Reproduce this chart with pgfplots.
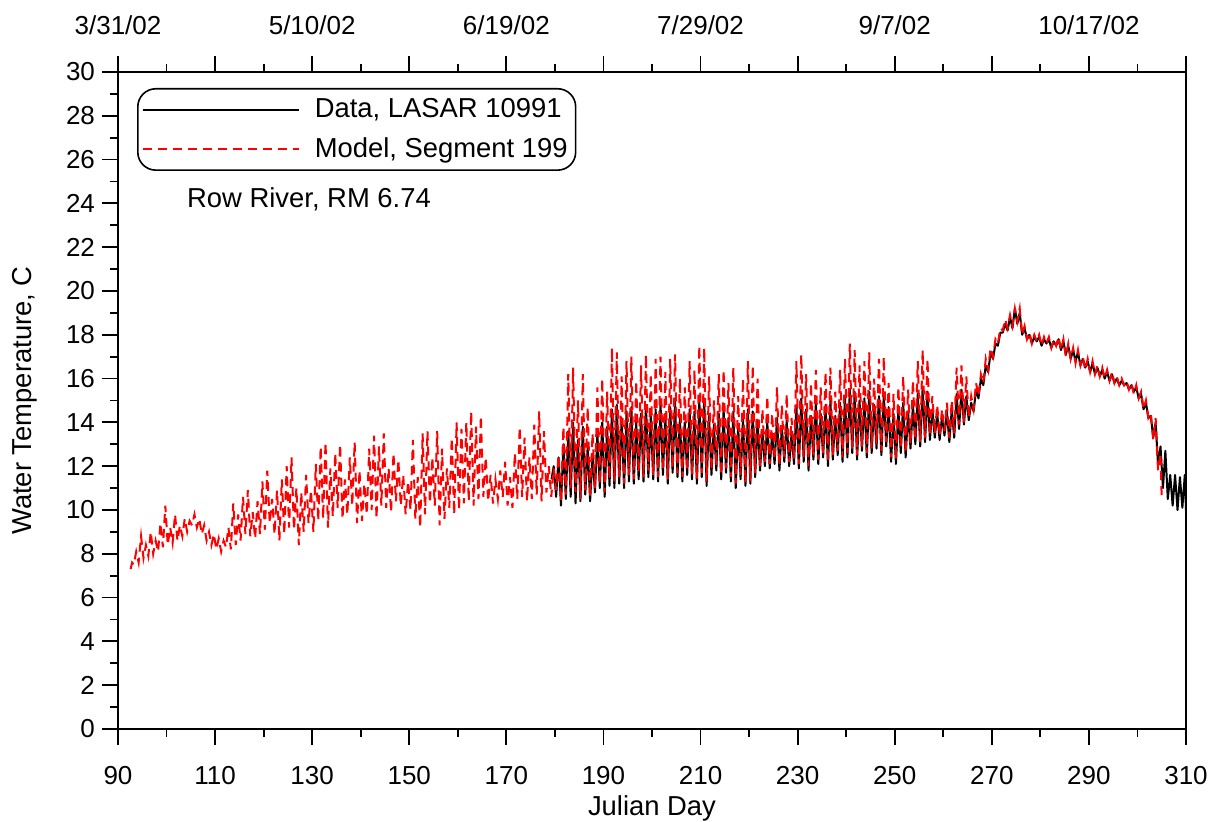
\documentclass[border=0pt]{standalone}
\usepackage{fontspec}
\setmainfont{Liberation Sans}
\usepackage{pgfplots}
\pgfplotsset{compat=1.18}
\definecolor{modred}{RGB}{255,0,0}
\newcommand{\fs}{\fontsize{13}{15.6}\selectfont}
\newcommand{\ft}{\fontsize{13.7}{16.4}\selectfont}
\begin{document}
\begin{tikzpicture}
\begin{axis}[name=A,
  scale only axis, width=534pt, height=328.5pt,
  xmin=90, xmax=310, ymin=0, ymax=30,
  xtick={90,110,...,310}, ytick={0,2,...,30},
  minor x tick num=1, minor y tick num=1,
  tick align=outside, xtick pos=bottom, ytick pos=left,
  major tick length=8pt, minor tick length=4pt,
  every tick/.style={black, line width=0.9pt},
  axis line style={line width=0.9pt},
  /pgf/number format/assume math mode=true,
  tick label style={font=\fs},
  xticklabel style={yshift=-7pt},
  label style={font=\ft},
  xlabel={Julian Day}, ylabel={Water Temperature, C},
  xlabel style={yshift=1.5pt},
  ylabel style={yshift=7.5pt},
  clip=false,
  legend cell align=left,
  legend style={font=\ft, at={(rel axis cs:0.0178,0.9757)}, anchor=north west,
    rounded corners=9pt, draw=black, line width=0.8pt, inner xsep=2pt, inner ysep=3pt,
    row sep=4.2pt, column sep=5.5pt},
  legend image code/.code={\draw[#1, line width=1pt] (0pt,0pt) -- (78pt,0pt);},
]
\addplot[black, line width=1pt, line join=round] coordinates {
(179.3,11.4)(179.75,12.0)
(180.25,10.6)(180.75,12.4)
(181.25,10.2)(181.75,13.0)
(182.25,10.5)(182.75,13.6)
(183.25,10.6)(183.75,14.0)
(184.25,10.3)(184.75,13.2)
(185.25,10.4)(185.75,13.8)
(186.25,10.7)(186.75,12.9)
(187.25,10.4)(187.75,12.5)
(188.25,10.8)(188.75,13.5)
(189.25,11.0)(189.75,14.0)
(190.25,10.6)(190.75,13.8)
(191.25,11.1)(191.75,14.6)
(192.25,11.0)(192.75,14.8)
(193.25,11.2)(193.75,14.2)
(194.25,11.0)(194.75,14.5)
(195.25,11.3)(195.75,14.7)
(196.25,11.2)(196.75,14.0)
(197.25,11.4)(197.75,14.4)
(198.25,11.3)(198.75,14.8)
(199.25,11.5)(199.75,14.3)
(200.25,11.4)(200.75,14.6)
(201.25,11.3)(201.75,14.9)
(202.25,11.6)(202.75,14.4)
(203.25,11.2)(203.75,14.7)
(204.25,11.7)(204.75,15.0)
(205.25,11.5)(205.75,14.2)
(206.25,11.3)(206.75,14.0)
(207.25,11.6)(207.75,14.6)
(208.25,11.4)(208.75,14.5)
(209.25,11.2)(209.75,15.0)
(210.25,11.5)(210.75,15.1)
(211.25,11.1)(211.75,14.3)
(212.25,11.6)(212.75,13.9)
(213.25,11.8)(213.75,14.4)
(214.25,11.4)(214.75,14.6)
(215.25,11.7)(215.75,14.2)
(216.25,11.3)(216.75,14.5)
(217.25,11.0)(217.75,13.8)
(218.25,11.4)(218.75,14.2)
(219.25,11.1)(219.75,14.6)
(220.25,11.2)(220.75,14.5)
(221.25,11.5)(221.75,14.1)
(222.25,11.8)(222.75,13.6)
(223.25,12.0)(223.75,14.0)
(224.25,11.9)(224.75,13.5)
(225.25,12.1)(225.75,14.2)
(226.25,11.8)(226.75,13.8)
(227.25,12.2)(227.75,14.1)
(228.25,12.0)(228.75,13.5)
(229.25,12.1)(229.75,14.8)
(230.25,11.9)(230.75,15.1)
(231.25,12.2)(231.75,14.6)
(232.25,11.8)(232.75,14.3)
(233.25,12.3)(233.75,14.9)
(234.25,12.1)(234.75,14.4)
(235.25,12.4)(235.75,14.8)
(236.25,12.0)(236.75,15.0)
(237.25,12.3)(237.75,14.3)
(238.25,12.5)(238.75,14.9)
(239.25,12.2)(239.75,15.2)
(240.25,12.4)(240.75,15.5)
(241.25,12.6)(241.75,15.4)
(242.25,12.3)(242.75,15.0)
(243.25,12.7)(243.75,15.1)
(244.25,12.4)(244.75,15.4)
(245.25,12.6)(245.75,14.8)
(246.25,12.8)(246.75,15.2)
(247.25,12.5)(247.75,15.3)
(248.25,12.9)(248.75,14.7)
(249.25,12.2)(249.75,14.4)
(250.25,12.1)(250.75,14.6)
(251.25,12.6)(251.75,14.9)
(252.25,12.4)(252.75,14.5)
(253.25,12.8)(253.75,14.8)
(254.25,13.0)(254.75,15.3)
(255.25,12.9)(255.75,15.6)
(256.25,13.1)(256.75,15.4)
(257.25,13.2)(257.75,14.6)
(258.25,13.3)(258.75,14.4)
(259.25,13.2)(259.75,14.3)
(260.25,13.4)(260.75,14.5)
(261.25,13.1)(261.75,14.6)
(262.25,13.3)(262.75,15.3)
(263.25,13.7)(263.75,15.5)
(264.25,13.9)(264.75,15.2)
(265.25,14.1)(265.75,14.9)
(266.25,14.5)(266.75,15.5)
(267.25,15.1)(267.75,16.0)
(268.25,15.7)(268.75,16.6)
(269.25,16.3)(269.75,17.2)
(270.25,16.9)(270.75,17.6)
(271.25,17.5)(271.75,18.1)
(272.25,18.1)(272.75,18.5)
(273.25,18.2)(273.75,18.8)
(274.25,18.3)(274.75,19.2)
(275.25,18.5)(275.75,19.0)
(276.25,18.0)(276.75,18.3)
(277.25,17.8)(277.75,18.0)
(278.25,17.6)(278.75,17.9)
(279.25,17.7)(279.75,17.9)
(280.25,17.5)(280.75,17.8)
(281.25,17.6)(281.75,17.8)
(282.25,17.4)(282.75,17.7)
(283.25,17.5)(283.75,17.8)
(284.25,17.3)(284.75,17.7)
(285.25,17.1)(285.75,17.5)
(286.25,16.9)(286.75,17.3)
(287.25,16.8)(287.75,17.2)
(288.25,16.6)(288.75,16.9)
(289.25,16.5)(289.75,16.8)
(290.25,16.3)(290.75,16.7)
(291.25,16.2)(291.75,16.5)
(292.25,16.1)(292.75,16.4)
(293.25,16.0)(293.75,16.3)
(294.25,15.9)(294.75,16.2)
(295.25,15.8)(295.75,16.0)
(296.25,15.7)(296.75,15.9)
(297.25,15.7)(297.75,15.8)
(298.25,15.5)(298.75,15.7)
(299.25,15.4)(299.75,15.6)
(300.25,15.1)(300.75,15.3)
(301.25,14.6)(301.75,14.9)
(302.25,14.2)(302.75,14.3)
(303.25,13.3)(303.75,14.0)
(304.25,12.0)(304.75,12.9)
(305.25,11.0)(305.75,12.7)
(306.25,10.5)(306.75,11.6)
(307.25,10.2)(307.75,11.6)
(308.25,10.0)(308.75,11.5)
(309.25,10.1)(309.75,11.6)
(310.0,10.0)
};
\addlegendentry{Data, LASAR 10991}
\addplot[modred, line width=1pt, dash pattern=on 4.5pt off 3pt] coordinates {
(92.6,7.3)(92.9,7.6)
(93.25,7.5)(93.75,8.1)
(94.25,7.6)(94.75,8.8)
(95.25,7.8)(95.75,8.4)
(96.25,7.9)(96.75,9.0)
(97.25,8.0)(97.75,8.6)
(98.25,8.1)(98.75,9.4)
(99.25,8.3)(99.75,10.2)
(100.25,8.4)(100.75,9.2)
(101.25,8.5)(101.75,9.8)
(102.25,8.6)(102.75,9.3)
(103.25,8.8)(103.75,9.6)
(104.25,9.0)(104.75,9.5)
(105.25,9.3)(105.75,9.8)
(106.25,9.2)(106.75,9.6)
(107.25,8.9)(107.75,9.3)
(108.25,8.6)(108.75,9.0)
(109.25,8.4)(109.75,8.9)
(110.25,8.2)(110.75,8.7)
(111.25,8.1)(111.75,8.6)
(112.25,8.3)(112.75,9.2)
(113.25,8.2)(113.75,10.3)
(114.25,8.4)(114.75,9.8)
(115.25,8.6)(115.75,10.6)
(116.25,8.9)(116.75,10.9)
(117.25,8.8)(117.75,9.9)
(118.25,8.7)(118.75,10.4)
(119.25,8.9)(119.75,11.3)
(120.25,9.1)(120.75,11.8)
(121.25,9.4)(121.75,10.5)
(122.25,8.9)(122.75,10.9)
(123.25,8.6)(123.75,11.4)
(124.25,8.9)(124.75,12.0)
(125.25,9.2)(125.75,12.4)
(126.25,9.1)(126.75,11.0)
(127.25,8.4)(127.75,10.8)
(128.25,9.0)(128.75,11.6)
(129.25,9.4)(129.75,10.9)
(130.25,9.0)(130.75,12.1)
(131.25,9.5)(131.75,12.9)
(132.25,9.6)(132.75,13.1)
(133.25,9.2)(133.75,11.9)
(134.25,9.7)(134.75,12.6)
(135.25,10.1)(135.75,13.0)
(136.25,9.6)(136.75,11.4)
(137.25,9.8)(137.75,12.4)
(138.25,10.2)(138.75,13.1)
(139.25,9.4)(139.75,11.8)
(140.25,9.5)(140.75,11.2)
(141.25,9.8)(141.75,12.8)
(142.25,10.0)(142.75,13.4)
(143.25,9.6)(143.75,12.9)
(144.25,10.2)(144.75,13.5)
(145.25,10.1)(145.75,11.9)
(146.25,9.9)(146.75,12.6)
(147.25,10.4)(147.75,12.3)
(148.25,10.2)(148.75,11.6)
(149.25,9.8)(149.75,11.3)
(150.25,10.0)(150.75,13.2)
(151.25,9.6)(151.75,11.5)
(152.25,9.2)(152.75,13.5)
(153.25,9.8)(153.75,13.6)
(154.25,10.3)(154.75,12.4)
(155.25,10.2)(155.75,13.6)
(156.25,9.3)(156.75,12.8)
(157.25,9.6)(157.75,11.9)
(158.25,10.1)(158.75,13.3)
(159.25,9.8)(159.75,14.0)
(160.25,10.0)(160.75,13.7)
(161.25,10.3)(161.75,14.0)
(162.25,10.4)(162.75,14.5)
(163.25,10.2)(163.75,13.8)
(164.25,10.5)(164.75,14.3)
(165.25,10.6)(165.75,12.4)
(166.25,10.4)(166.75,11.6)
(167.25,10.3)(167.75,11.4)
(168.25,10.5)(168.75,11.8)
(169.25,10.6)(169.75,12.2)
(170.25,10.2)(170.75,11.5)
(171.25,10.1)(171.75,12.6)
(172.25,10.5)(172.75,13.8)
(173.25,10.6)(173.75,13.3)
(174.25,10.4)(174.75,12.4)
(175.25,10.5)(175.75,13.9)
(176.25,10.7)(176.75,14.5)
(177.25,10.4)(177.75,13.6)
(178.25,10.8)(178.75,12.0)
(179.25,10.6)(179.75,11.9)
(180.25,10.9)(180.75,12.5)
(181.25,10.4)(181.75,13.8)
(182.25,10.7)(182.75,16.2)
(183.25,11.0)(183.75,16.5)
(184.25,10.8)(184.75,15.0)
(185.25,10.5)(185.75,16.2)
(186.25,10.9)(186.75,14.7)
(187.25,10.6)(187.75,13.5)
(188.25,11.0)(188.75,15.6)
(189.25,11.2)(189.75,16.0)
(190.25,10.8)(190.75,15.4)
(191.25,11.4)(191.75,17.4)
(192.25,11.3)(192.75,17.2)
(193.25,11.5)(193.75,16.1)
(194.25,11.2)(194.75,16.8)
(195.25,11.6)(195.75,17.0)
(196.25,11.4)(196.75,15.9)
(197.25,11.7)(197.75,16.6)
(198.25,11.5)(198.75,17.1)
(199.25,11.8)(199.75,16.2)
(200.25,11.6)(200.75,16.9)
(201.25,11.5)(201.75,17.0)
(202.25,11.8)(202.75,16.3)
(203.25,11.4)(203.75,16.9)
(204.25,11.9)(204.75,17.1)
(205.25,11.7)(205.75,16.0)
(206.25,11.5)(206.75,15.6)
(207.25,11.8)(207.75,16.8)
(208.25,11.6)(208.75,16.4)
(209.25,11.4)(209.75,17.5)
(210.25,11.7)(210.75,17.4)
(211.25,11.3)(211.75,16.1)
(212.25,11.8)(212.75,15.0)
(213.25,12.0)(213.75,16.2)
(214.25,11.6)(214.75,16.4)
(215.25,11.9)(215.75,15.8)
(216.25,11.5)(216.75,16.5)
(217.25,11.2)(217.75,15.2)
(218.25,11.6)(218.75,16.0)
(219.25,11.2)(219.75,16.8)
(220.25,11.3)(220.75,16.6)
(221.25,11.7)(221.75,16.0)
(222.25,12.0)(222.75,14.6)
(223.25,12.2)(223.75,15.2)
(224.25,12.1)(224.75,14.4)
(225.25,12.3)(225.75,15.6)
(226.25,12.0)(226.75,14.8)
(227.25,12.4)(227.75,15.3)
(228.25,12.2)(228.75,14.2)
(229.25,12.3)(229.75,16.8)
(230.25,12.1)(230.75,17.1)
(231.25,12.4)(231.75,16.2)
(232.25,12.0)(232.75,15.8)
(233.25,12.5)(233.75,16.4)
(234.25,12.3)(234.75,15.6)
(235.25,12.6)(235.75,16.3)
(236.25,12.2)(236.75,16.5)
(237.25,12.5)(237.75,15.4)
(238.25,12.7)(238.75,16.4)
(239.25,12.4)(239.75,16.9)
(240.25,12.6)(240.75,17.6)
(241.25,12.8)(241.75,17.3)
(242.25,12.5)(242.75,16.6)
(243.25,12.9)(243.75,16.8)
(244.25,12.6)(244.75,17.2)
(245.25,12.8)(245.75,16.0)
(246.25,13.0)(246.75,16.9)
(247.25,12.7)(247.75,17.0)
(248.25,13.1)(248.75,15.8)
(249.25,12.4)(249.75,15.3)
(250.25,12.3)(250.75,15.6)
(251.25,12.8)(251.75,16.1)
(252.25,12.6)(252.75,15.5)
(253.25,13.0)(253.75,15.9)
(254.25,13.2)(254.75,16.8)
(255.25,13.1)(255.75,17.3)
(256.25,13.3)(256.75,16.9)
(257.25,13.4)(257.75,15.2)
(258.25,13.5)(258.75,14.8)
(259.25,13.4)(259.75,14.6)
(260.25,13.6)(260.75,14.9)
(261.25,13.3)(261.75,15.0)
(262.25,13.5)(262.75,16.5)
(263.25,13.9)(263.75,16.6)
(264.25,14.0)(264.75,16.1)
(265.25,14.2)(265.75,15.2)
(266.25,14.6)(266.75,15.8)
(267.25,15.2)(267.75,16.2)
(268.25,15.8)(268.75,16.9)
(269.25,16.4)(269.75,17.4)
(270.25,17.0)(270.75,17.8)
(271.25,17.6)(271.75,18.3)
(272.25,18.2)(272.75,18.7)
(273.25,18.3)(273.75,18.9)
(274.25,18.4)(274.75,19.2)
(275.25,18.6)(275.75,19.2)
(276.25,18.0)(276.75,18.4)
(277.25,17.8)(277.75,18.1)
(278.25,17.6)(278.75,18.0)
(279.25,17.7)(279.75,18.0)
(280.25,17.5)(280.75,17.9)
(281.25,17.6)(281.75,17.9)
(282.25,17.4)(282.75,17.8)
(283.25,17.5)(283.75,17.9)
(284.25,17.3)(284.75,17.8)
(285.25,17.0)(285.75,17.6)
(286.25,16.9)(286.75,17.4)
(287.25,16.7)(287.75,17.3)
(288.25,16.6)(288.75,17.0)
(289.25,16.4)(289.75,16.9)
(290.25,16.3)(290.75,16.8)
(291.25,16.2)(291.75,16.6)
(292.25,16.1)(292.75,16.5)
(293.25,16.0)(293.75,16.4)
(294.25,15.9)(294.75,16.3)
(295.25,15.8)(295.75,16.1)
(296.25,15.7)(296.75,16.0)
(297.25,15.7)(297.75,15.9)
(298.25,15.5)(298.75,15.8)
(299.25,15.3)(299.75,15.7)
(300.25,15.1)(300.75,15.4)
(301.25,14.6)(301.75,15.0)
(302.25,14.2)(302.75,14.4)
(303.25,13.2)(303.75,14.2)
(304.25,11.8)(304.75,12.6)
(305.0,10.5)
};
\addlegendentry{Model, Segment 199}
\node[anchor=west, font=\ft] at (axis cs:102.8,24.2) {Row River, RM 6.74};
\end{axis}
\begin{axis}[
  scale only axis, width=534pt, height=328.5pt,
  xmin=90, xmax=310, ymin=0, ymax=30,
  axis x line*=top, axis y line=none,
  axis line style={-, line width=0.9pt},
  xtick={90,110,...,310},
  xticklabels={3/31/02,,5/10/02,,6/19/02,,7/29/02,,9/7/02,,10/17/02,},
  minor x tick num=1,
  tick align=outside,
  major tick length=8pt, minor tick length=4pt,
  every tick/.style={black, line width=0.9pt},
  tick label style={font=\fs},
  xticklabel style={yshift=7pt},
]
\end{axis}
\pgfresetboundingbox
\path ([shift={(-59pt,-46.5pt)}]A.south west) rectangle ([shift={(17.5pt,36pt)}]A.north east);
\end{tikzpicture}
\end{document}
